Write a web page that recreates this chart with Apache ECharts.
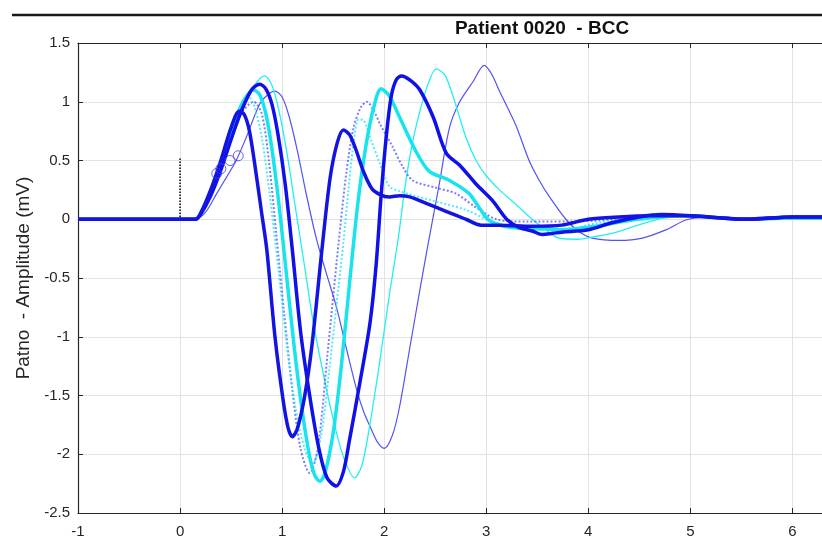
<!DOCTYPE html>
<html>
<head>
<meta charset="utf-8">
<title>Patient 0020 - BCC</title>
<script src="https://cdn.jsdelivr.net/npm/echarts@6/dist/echarts.min.js"></script>
<style>
  html, body { margin: 0; padding: 0; background: #fff; }
  #chart { width: 822px; height: 541px; }
</style>
</head>
<body>
<div id="chart"></div>
<script>
// axis setup
const xTicks = [-1, 0, 1, 2, 3, 4, 5, 6];
const yTicks = [-2.5, -2, -1.5, -1, -0.5, 0, 0.5, 1, 1.5];
const titleText = 'Patient 0020  - BCC';
const yName = 'Patno  - Amplitude (mV)';

// beats as [time, mV]
const beatDots = [ // blue, dot markers (earliest)
  [-1, 0], [0.15, 0], [0.2, 0.05], [0.3, 0.25], [0.4, 0.5], [0.5, 0.78], [0.58, 0.92], [0.63, 0.89],
  [0.68, 0.75], [0.74, 0.42], [0.8, 0.05], [0.85, -0.26], [0.93, -1.0], [1.01, -1.54], [1.06, -1.78],
  [1.1, -1.85], [1.15, -1.78], [1.22, -1.51], [1.29, -1.09], [1.39, -0.26], [1.47, 0.35], [1.54, 0.65],
  [1.6, 0.76], [1.66, 0.72], [1.72, 0.6], [1.8, 0.4], [1.88, 0.26], [1.96, 0.21], [2.05, 0.19],
  [2.15, 0.2], [2.25, 0.19], [2.4, 0.14], [2.6, 0.07], [2.8, 0.0], [2.95, -0.05], [3.13, -0.05],
  [3.45, -0.06], [3.74, -0.05], [4.0, 0.0], [4.3, 0.02], [4.6, 0.03], [5.0, 0.03], [5.5, 0.0],
  [6.0, 0.02], [6.3, 0.02]
];
const beatCyanThick = [
  [-1, 0], [0.15, 0], [0.2, 0.04], [0.3, 0.22], [0.4, 0.45], [0.5, 0.72], [0.6, 0.97], [0.72, 1.1],
  [0.78, 1.06], [0.84, 0.9], [0.9, 0.6], [0.97, 0.12], [1.04, -0.45], [1.12, -1.1], [1.2, -1.65],
  [1.27, -2.02], [1.32, -2.18], [1.37, -2.23], [1.42, -2.16], [1.5, -1.82], [1.58, -1.25],
  [1.66, -0.55], [1.74, 0.12], [1.82, 0.62], [1.9, 0.96], [1.97, 1.11], [2.05, 1.05], [2.15, 0.87],
  [2.31, 0.58], [2.44, 0.41], [2.64, 0.33], [2.83, 0.22], [2.93, 0.1], [3.03, -0.01], [3.25, -0.07],
  [3.5, -0.08], [3.74, -0.09], [4.07, -0.06], [4.4, -0.01], [4.7, 0.02], [5.0, 0.03], [5.5, 0.0],
  [6.0, 0.01], [6.3, 0.01]
];
const beatBlueThick = [
  [-1, 0], [0.15, 0], [0.2, 0.04], [0.3, 0.2], [0.4, 0.42], [0.5, 0.68], [0.6, 0.92], [0.7, 1.1],
  [0.78, 1.15], [0.84, 1.11], [0.9, 0.98], [0.96, 0.72], [1.03, 0.3], [1.1, -0.26], [1.18, -0.95],
  [1.27, -1.5], [1.36, -1.95], [1.44, -2.2], [1.53, -2.27], [1.6, -2.15], [1.66, -1.88], [1.76, -1.4],
  [1.86, -0.89], [1.92, -0.4], [1.97, 0.2], [2.02, 0.7], [2.07, 1.05], [2.12, 1.19], [2.17, 1.22],
  [2.26, 1.18], [2.35, 1.1], [2.48, 0.87], [2.61, 0.56], [2.74, 0.46], [2.9, 0.3], [3.06, 0.16],
  [3.2, 0.0], [3.32, -0.07], [3.45, -0.1], [3.55, -0.13], [3.65, -0.12], [3.74, -0.11], [4.0, -0.09],
  [4.23, -0.03], [4.5, 0.02], [4.72, 0.04], [5.0, 0.03], [5.3, 0.01], [5.6, 0.0], [6.0, 0.02], [6.3, 0.02]
];
const beatCyanThin = [
  [-1, 0], [0.15, 0], [0.2, 0.04], [0.3, 0.2], [0.4, 0.42], [0.5, 0.66], [0.6, 0.9], [0.7, 1.1],
  [0.83, 1.22], [0.9, 1.14], [0.97, 0.92], [1.05, 0.55], [1.13, 0.1], [1.22, -0.4], [1.3, -0.85],
  [1.4, -1.3], [1.5, -1.7], [1.6, -2.02], [1.71, -2.2], [1.78, -2.1], [1.85, -1.8], [1.95, -1.25],
  [2.05, -0.65], [2.14, -0.15], [2.2, 0.25], [2.27, 0.62], [2.35, 0.92], [2.43, 1.15], [2.51, 1.28],
  [2.6, 1.22], [2.71, 0.95], [2.8, 0.7], [2.9, 0.5], [3.0, 0.37], [3.13, 0.25], [3.3, 0.12],
  [3.45, 0.0], [3.6, -0.1], [3.71, -0.16], [3.9, -0.17], [4.05, -0.15], [4.23, -0.12], [4.56, -0.03],
  [4.8, 0.02], [5.0, 0.03], [5.5, 0.0], [6.0, 0.0], [6.3, 0.0]
];
const beatBlueThin = [
  [-1, 0], [0.15, 0], [0.25, 0.06], [0.36, 0.22], [0.45, 0.35], [0.55, 0.5], [0.65, 0.7], [0.78, 0.98],
  [0.86, 1.06], [0.93, 1.09], [1.0, 1.04], [1.07, 0.87], [1.15, 0.58], [1.24, 0.2], [1.34, -0.18],
  [1.43, -0.45], [1.53, -0.74], [1.63, -1.1], [1.73, -1.45], [1.8, -1.64], [1.86, -1.76], [1.93, -1.89],
  [2.0, -1.95], [2.08, -1.84], [2.15, -1.6], [2.25, -1.1], [2.33, -0.7], [2.42, -0.26], [2.54, 0.3],
  [2.64, 0.78], [2.74, 1.0], [2.87, 1.17], [2.98, 1.31], [3.05, 1.24], [3.13, 1.09], [3.29, 0.8],
  [3.42, 0.5], [3.52, 0.33], [3.62, 0.19], [3.78, 0.0], [3.9, -0.1], [4.04, -0.16], [4.3, -0.18],
  [4.53, -0.16], [4.76, -0.09], [4.98, 0.0], [5.3, 0.02], [5.6, 0.0], [6.0, 0.01], [6.3, 0.01]
];
const beatBlueDotted = [
  [-1, 0], [0.15, 0], [0.2, 0.04], [0.3, 0.22], [0.4, 0.45], [0.5, 0.7], [0.6, 0.9], [0.72, 1.0],
  [0.8, 0.9], [0.87, 0.5], [0.94, -0.1], [1.02, -0.8], [1.1, -1.45], [1.18, -1.95], [1.27, -2.16],
  [1.35, -1.95], [1.45, -1.1], [1.55, -0.23], [1.63, 0.4], [1.7, 0.78], [1.77, 0.95], [1.83, 1.0],
  [1.9, 0.92], [1.96, 0.81], [2.08, 0.62], [2.18, 0.45], [2.28, 0.33], [2.5, 0.27], [2.7, 0.22],
  [2.9, 0.1], [3.1, 0.0], [3.4, -0.02], [3.8, -0.02], [4.1, -0.01], [4.5, 0.02], [5.0, 0.03],
  [5.5, 0.0], [6.0, 0.01], [6.3, 0.01]
];
const beatCyanDotted = [
  [-1, 0], [0.15, 0], [0.2, 0.04], [0.3, 0.24], [0.4, 0.48], [0.5, 0.75], [0.58, 0.95], [0.66, 1.05],
  [0.72, 0.98], [0.8, 0.7], [0.88, 0.2], [0.96, -0.4], [1.05, -1.1], [1.13, -1.6], [1.22, -1.95],
  [1.3, -2.08], [1.38, -1.85], [1.46, -1.3], [1.53, -0.75], [1.6, -0.2], [1.65, 0.25], [1.7, 0.65],
  [1.75, 0.85], [1.8, 0.84], [1.86, 0.7], [1.96, 0.47], [2.05, 0.28], [2.15, 0.24], [2.3, 0.2],
  [2.47, 0.16], [2.8, 0.08], [3.0, 0.0], [3.2, -0.06], [3.5, -0.08], [3.8, -0.08], [4.1, -0.03],
  [4.4, 0.0], [5.0, 0.03], [5.5, 0.0], [6.3, 0.01]
];
const onsetMarks = [[0.36, 0.39], [0.4, 0.43], [0.49, 0.5], [0.57, 0.54]];
const zeroMark = [[0, 0.02], [0, 0.52]];

const axisColor = '#262626';
const fontName = 'Liberation Sans, Arial, sans-serif';
const labelFont = { fontFamily: fontName, fontSize: 15, color: axisColor };

function beatSeries(data, color, width, type, z) {
  return {
    type: 'line',
    data: data,
    smooth: 0.3,
    showSymbol: false,
    z: z,
    lineStyle: { color: color, width: width, type: type || 'solid' }
  };
}

const chart = echarts.init(document.getElementById('chart'));

const option = {
  animation: false,
  backgroundColor: '#fff',
  title: {
    text: titleText,
    left: 537,
    top: 14,
    textAlign: 'center',
    textStyle: { fontFamily: fontName, fontSize: 19, fontWeight: 'bold', color: '#111' }
  },
  graphic: [
    {
      type: 'line',
      shape: { x1: 12, y1: 15, x2: 822, y2: 15 },
      style: { stroke: '#1a1a1a', lineWidth: 2.5 }
    }
  ],
  grid: { left: 78, right: 0, top: 43, bottom: 28, containLabel: false },
  xAxis: [
    {
      type: 'value',
      position: 'bottom',
      min: xTicks[0],
      max: 6.29,
      interval: 1,
      axisLine: { show: true, onZero: false, lineStyle: { color: axisColor, width: 1.2 } },
      axisTick: { show: true, inside: true, length: 5, lineStyle: { color: axisColor } },
      axisLabel: { ...labelFont, margin: 11, showMaxLabel: false },
      splitLine: { show: true, lineStyle: { color: '#e2e2e2', width: 1 } }
    },
    {
      type: 'value',
      position: 'top',
      min: xTicks[0],
      max: 6.29,
      interval: 1,
      axisLine: { show: true, onZero: false, lineStyle: { color: axisColor, width: 1.2 } },
      axisTick: { show: true, inside: true, length: 5, lineStyle: { color: axisColor } },
      axisLabel: { show: false },
      splitLine: { show: false }
    }
  ],
  yAxis: {
    type: 'value',
    min: yTicks[0],
    max: yTicks[yTicks.length - 1],
    interval: 0.5,
    name: yName,
    nameLocation: 'middle',
    nameGap: 42,
    nameTextStyle: { fontFamily: fontName, fontSize: 19, color: axisColor },
    axisLine: { show: true, onZero: false, lineStyle: { color: axisColor, width: 1.2 } },
    axisTick: { show: true, inside: true, length: 5, lineStyle: { color: axisColor } },
    axisLabel: { ...labelFont, margin: 8 },
    splitLine: { show: true, lineStyle: { color: '#e2e2e2', width: 1 } }
  },
  series: [
    beatSeries(beatBlueThin, 'rgba(40,40,240,0.8)', 1.2, 'solid', 2),
    beatSeries(beatCyanThin, '#22f0f0', 1.3, 'solid', 2),
    beatSeries(beatBlueDotted, 'rgba(70,70,255,0.7)', 2, 'dotted', 2),
    beatSeries(beatCyanDotted, 'rgba(40,230,250,0.8)', 2, 'dotted', 2),
    beatSeries(beatCyanThick, '#18e4ee', 3.5, 'solid', 3),
    beatSeries(beatBlueThick, '#1010e8', 3.5, 'solid', 3),
    beatSeries(beatDots, '#1414e0', 3.5, 'solid', 4),
    {
      type: 'scatter',
      data: onsetMarks,
      symbol: 'circle',
      symbolSize: 10,
      z: 10,
      itemStyle: { color: 'transparent', borderColor: '#3a3aff', borderWidth: 1 }
    },
    {
      type: 'line',
      data: zeroMark,
      showSymbol: false,
      z: 5,
      lineStyle: { color: '#000', width: 1.5, type: 'dotted' }
    }
  ]
};

chart.setOption(option);
window.addEventListener('resize', () => chart.resize());
</script>
</body>
</html>
